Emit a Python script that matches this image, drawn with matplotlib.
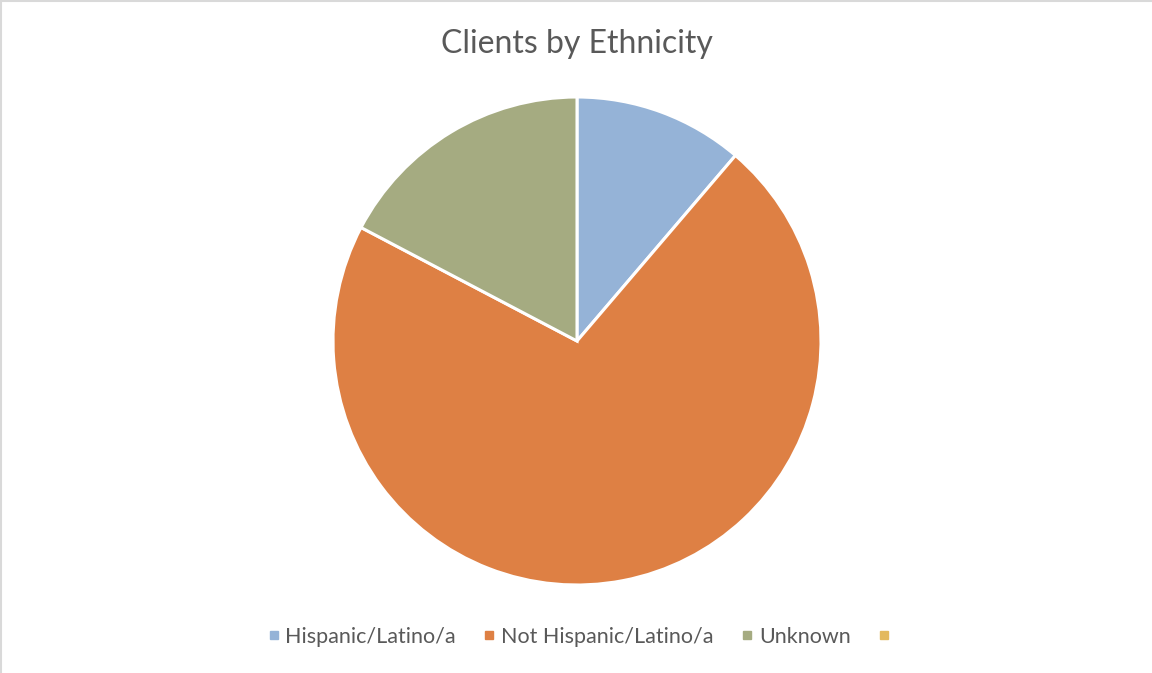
import matplotlib.pyplot as plt
from matplotlib.lines import Line2D

# data
labels = ['Hispanic/Latino/a', 'Not Hispanic/Latino/a', 'Unknown', '']
values = [11.25, 71.45, 17.3, 0]
colors = ['#95B3D7', '#DE8044', '#A5AB81', '#E3B95E']

plt.rcParams['font.family'] = ['Lato', 'DejaVu Sans']
txt = '#595959'

fig = plt.figure(figsize=(11.52, 6.73), dpi=100)

# pie area: center (577,340) px, radius ~244 px
cx, cy, r = 577, 341, 244
W, H = 1152, 673
ax = fig.add_axes([(cx - r) / W, (H - cy - r) / H, 2 * r / W, 2 * r / H])

vals = [v for v in values if v > 0]
cols = [c for v, c in zip(values, colors) if v > 0]
ax.pie(vals, colors=cols, startangle=90, counterclock=False, radius=1,
       wedgeprops=dict(edgecolor='white', linewidth=2.2))
ax.set_xlim(-1, 1)
ax.set_ylim(-1, 1)
ax.set_aspect('equal')
ax.axis('off')

fig.text(cx / W, 1 - 44 / H, 'Clients by Ethnicity', ha='center', va='center',
         fontsize=23, color=txt)

handles = [Line2D([], [], marker='s', linestyle='none', markersize=6,
                  markerfacecolor=c, markeredgecolor=c) for c in colors]
fig.legend(handles, labels, loc='center', bbox_to_anchor=(582 / W, 1 - 637 / H),
           ncol=4, frameon=False, fontsize=15.5, labelcolor=txt,
           handlelength=0.5, handletextpad=0.3, columnspacing=1.3)

# light gray frame on top and left edges
fig.add_artist(Line2D([0, 1], [0.999, 0.999], transform=fig.transFigure,
                      color='#D9D9D9', linewidth=1.5))
fig.add_artist(Line2D([0.001, 0.001], [0, 1], transform=fig.transFigure,
                      color='#D9D9D9', linewidth=1.5))

fig.savefig('out.png', dpi=100, facecolor='white')
